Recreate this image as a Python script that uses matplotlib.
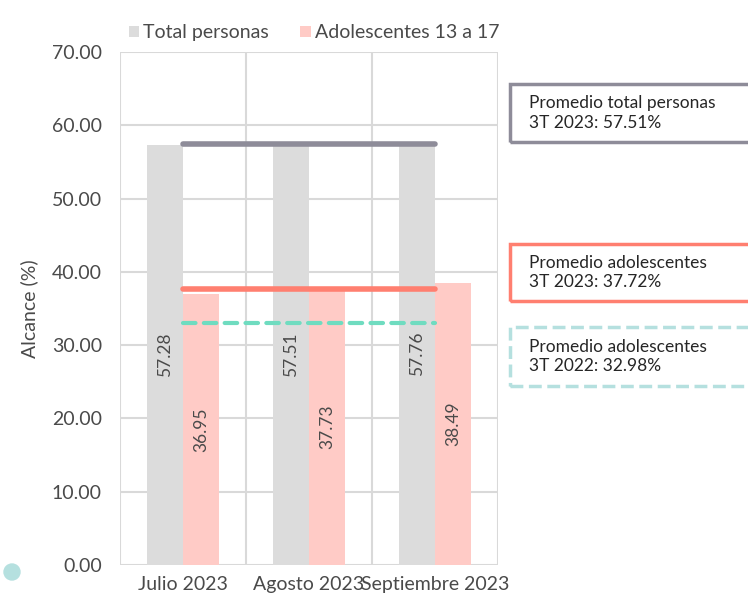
import matplotlib.pyplot as plt
from matplotlib.patches import Rectangle, Ellipse
import numpy as np

plt.rcParams['font.family'] = ['Lato', 'DejaVu Sans']

# datos
meses = ['Julio 2023', 'Agosto 2023', 'Septiembre 2023']
total_personas = [57.28, 57.51, 57.76]
adolescentes = [36.95, 37.73, 38.49]
prom_total_2023 = 57.51
prom_adol_2023 = 37.72
prom_adol_2022 = 32.98

gris = '#dcdcdc'
rosa = '#ffcbc6'
gris_linea = '#8e8c99'
rojo = '#ff7f70'
verde = '#6fdcc0'
celeste = '#b5e0df'
texto = '#4a4a4a'

fig = plt.figure(figsize=(7.48, 5.97), dpi=100)
ax = fig.add_axes([0.1604, 0.0536, 0.5053, 0.8593])

x = np.arange(len(meses))
w = 0.285
ax.bar(x - w / 2, total_personas, w, color=gris, label='Total personas', zorder=2)
ax.bar(x + w / 2, adolescentes, w, color=rosa, label='Adolescentes 13 a 17', zorder=2)

for xi, v in zip(x, total_personas):
    ax.text(xi - w / 2, v / 2, f'{v:.2f}', rotation=90, ha='center', va='center',
            fontsize=12.5, color=texto, zorder=3)
for xi, v in zip(x, adolescentes):
    ax.text(xi + w / 2, v / 2, f'{v:.2f}', rotation=90, ha='center', va='center',
            fontsize=12.5, color=texto, zorder=3)

# promedios
ax.plot([x[0], x[-1]], [prom_total_2023] * 2, color=gris_linea, lw=4,
        solid_capstyle='round', zorder=4)
ax.plot([x[0], x[-1]], [prom_adol_2023] * 2, color=rojo, lw=4,
        solid_capstyle='round', zorder=4)
ax.plot([x[0], x[-1]], [prom_adol_2022] * 2, color=verde, lw=3,
        ls=(0, (3, 2)), dash_capstyle='round', zorder=4)

ax.set_xlim(-0.5, 2.5)
ax.set_ylim(0, 70)
ax.set_yticks(np.arange(0, 71, 10))
ax.set_yticklabels([f'{t:.2f}' for t in np.arange(0, 71, 10)])
ax.set_xticks(x)
ax.set_xticklabels(meses)
ax.set_xticks([-0.5, 0.5, 1.5, 2.5], minor=True)
ax.grid(axis='y', color='#d9d9d9', lw=1.5, zorder=0)
ax.grid(axis='x', which='minor', color='#d9d9d9', lw=1.5, zorder=0)
ax.tick_params(which='both', length=0, labelsize=14, colors=texto)
ax.tick_params(axis='y', pad=13)
ax.tick_params(axis='x', pad=8)
for s in ax.spines.values():
    s.set_visible(False)
ax.set_ylabel('Alcance (%)', fontsize=14, color=texto, labelpad=10)

ax.legend(loc='lower left', bbox_to_anchor=(-0.005, 1.0), ncol=2, frameon=False,
          fontsize=14, handlelength=0.55, handleheight=0.55, handletextpad=0.2,
          columnspacing=1.6, labelcolor=texto, borderaxespad=0.15)

# cuadros de texto
cuadros = [
    ('Promedio total personas\n3T 2023: 57.51%', gris_linea, '-', 84, 142),
    ('Promedio adolescentes\n3T 2023: 37.72%', rojo, '-', 244, 301),
    ('Promedio adolescentes\n3T 2022: 32.98%', celeste, '--', 327, 386),
]
W, H = 748, 597
for txt, col, ls, y0, y1 in cuadros:
    r = Rectangle((510 / W, 1 - y1 / H), 250 / W, (y1 - y0) / H, transform=fig.transFigure,
                  fill=False, edgecolor=col, lw=2.5, ls=ls, clip_on=False)
    fig.add_artist(r)
    fig.text(529 / W, 1 - (y0 + y1) / 2 / H, txt, fontsize=12.5, color='#262626',
             va='center', ha='left', linespacing=1.25)

fig.add_artist(Ellipse((12 / W, 1 - 572 / H), 16 / W, 16 / H, transform=fig.transFigure,
                       color=celeste, clip_on=False))

fig.savefig('out.png', dpi=100)
